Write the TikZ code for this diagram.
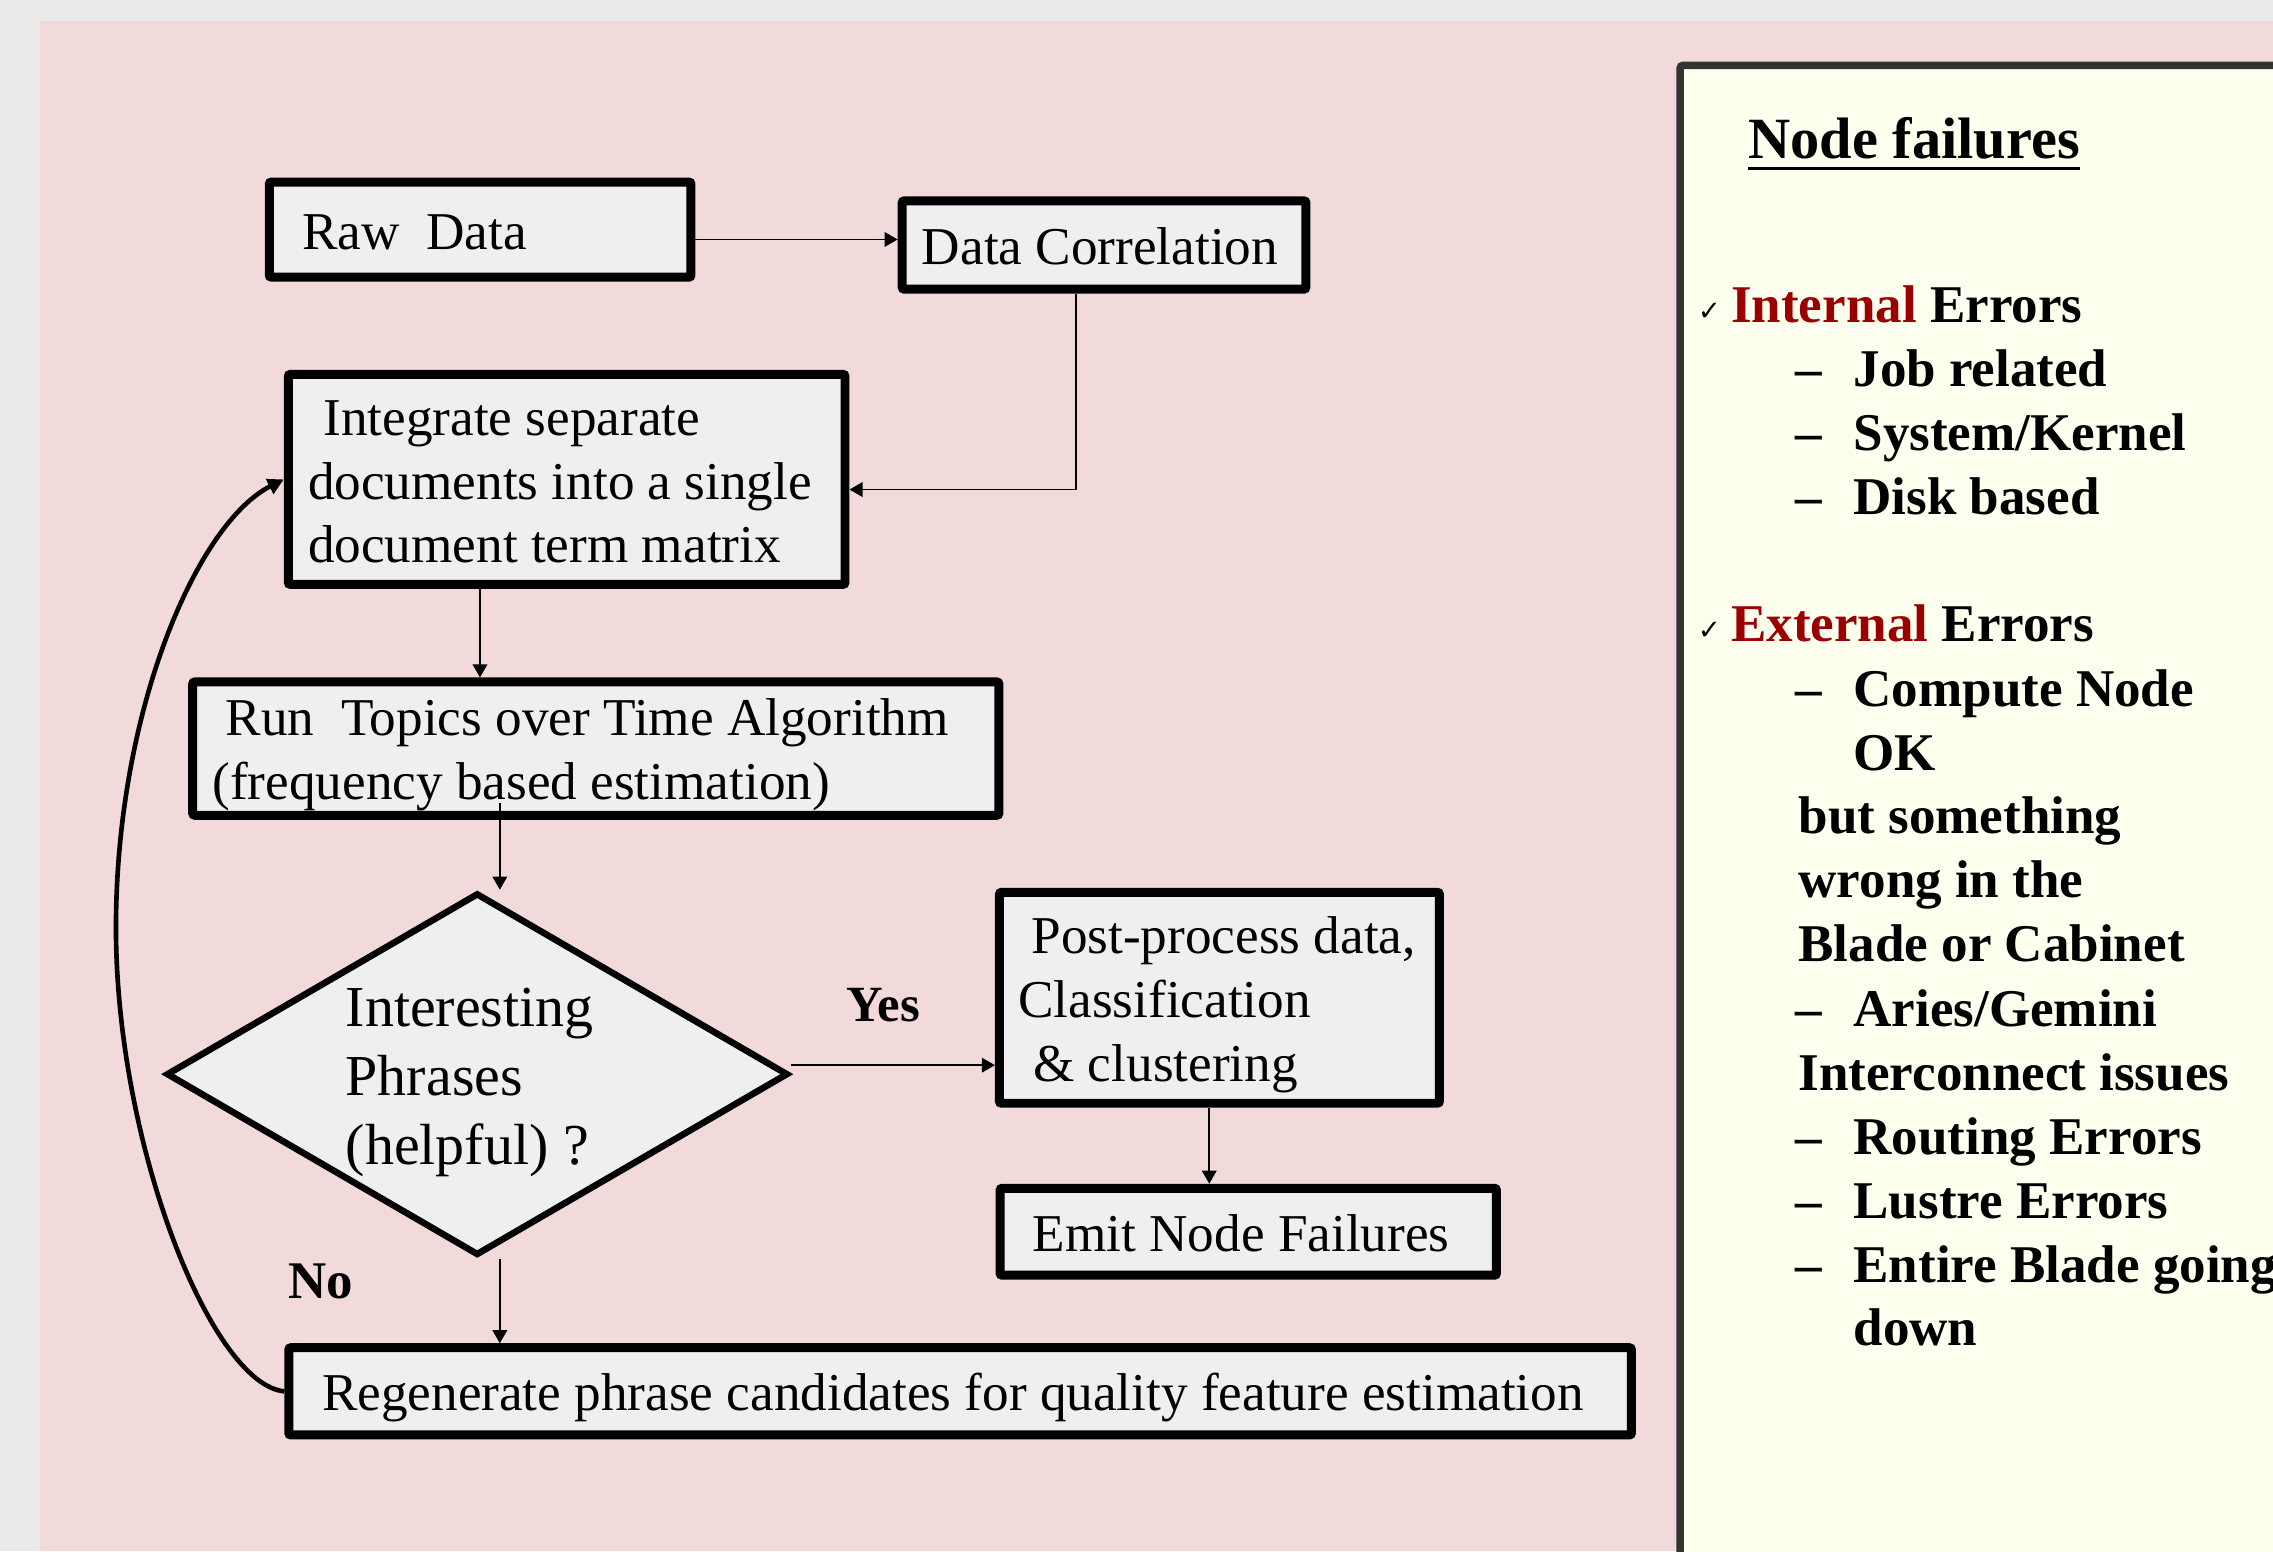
\documentclass[tikz,border=0pt]{standalone}
\usepackage{fontspec}
\setmainfont{Liberation Serif}
\newfontfamily\symfont{DejaVu Sans}
\usetikzlibrary{arrows.meta,shapes.geometric,calc}
\definecolor{graybg}{RGB}{234,234,234}
\definecolor{pinkbg}{RGB}{242,218,219}
\definecolor{boxfill}{RGB}{239,239,239}
\definecolor{cream}{RGB}{255,255,240}
\definecolor{panelborder}{RGB}{51,51,51}
\definecolor{darkred}{RGB}{155,0,0}
\tikzset{
  box/.style={rectangle, draw=black, fill=boxfill, line width=6.2pt, rounded corners=1.5pt, inner sep=0pt},
  txt/.style={anchor=base west, inner sep=0pt, font=\fontsize{36.7}{44}\selectfont},
  dtxt/.style={anchor=base west, inner sep=0pt, font=\fontsize{40}{48}\selectfont},
  lbl/.style={anchor=base west, inner sep=0pt, font=\fontsize{35}{42}\selectfont\bfseries},
  ptxt/.style={anchor=base west, inner sep=0pt, font=\fontsize{36.6}{44}\selectfont\bfseries},
  chk/.style={anchor=base west, inner sep=0pt, font=\fontsize{19}{21}\selectfont\symfont},
  arr/.style={-{Triangle[length=9pt,width=10pt]}, line width=1.3pt},
  looparr/.style={-{Triangle[length=11pt,width=11pt]}, line width=3.2pt},
}
\begin{document}
\begin{tikzpicture}[x=1pt,y=-1pt]
\clip (0,0) rectangle (1568,1070);
\fill[graybg] (0,0) rectangle (1568,1070);
\fill[pinkbg] (27.7,14.8) rectangle (1568,1070);

% right panel
\draw[panelborder, line width=5.2pt, fill=cream, rounded corners=2pt] (1159,45.1) rectangle (1640,1130);

% boxes
\node[box, minimum width=290.9pt, minimum height=65.6pt] (raw) at (331.2,158.4) {};
\node[box, minimum width=278.5pt, minimum height=61pt] (dc) at (761.6,169) {};
\node[box, minimum width=384pt, minimum height=144.9pt] (int) at (390.9,330.7) {};
\node[box, minimum width=556.1pt, minimum height=92pt] (rt) at (411,516.4) {};
\node[diamond, draw=black, fill=boxfill, line width=4.5pt, inner sep=0pt, minimum width=429pt, minimum height=250pt] (dia) at (329.2,741) {};
\node[box, minimum width=303.5pt, minimum height=145.5pt] (pp) at (841.2,688.3) {};
\node[box, minimum width=342.4pt, minimum height=60pt] (emit) at (861.1,849.7) {};
\node[box, minimum width=926.2pt, minimum height=60.2pt] (regen) at (662.3,959.8) {};

% box texts
\node[txt] (traw) at (208.3,172.1) {Raw\ \ Data};
\node[txt] (tdc) at (635.8,182.7) {Data Correlation};
\node[txt] (tint1) at (222.9,300.1) {Integrate separate};
\node[txt] (tint2) at (212.3,344.4) {documents into a single};
\node[txt] (tint3) at (212.3,387.9) {document term matrix};
\node[txt] (trt1) at (155.6,507.6) {Run\ \ Topics over Time Algorithm};
\node[txt] (trt2) at (146.4,551.5) {(frequency based estimation)};
\node[dtxt] (tdia1) at (238.3,708) {Interesting};
\node[dtxt] (tdia2) at (238.3,755.7) {Phrases};
\node[dtxt] (tdia3) at (238.3,803.5) {(helpful) ?};
\node[txt] (tpp1) at (711.4,657.8) {Post-process data,};
\node[txt] (tpp2) at (702.3,701.8) {Classification};
\node[txt] (tpp3) at (712.6,745.9) {\& clustering};
\node[txt] (temit) at (712.2,863.5) {Emit Node Failures};
\node[txt] (tregen) at (222,972.9) {Regenerate phrase candidates for quality feature estimation};
\node[lbl] (yes) at (583.9,705) {Yes};
\node[lbl, font=\fontsize{36.5}{42}\selectfont\bfseries] (no) at (199,895.9) {No};

% connectors
\coordinate (c1) at (0,165.2);
\draw[arr] (raw.east |- c1) -- (dc.west |- c1);
\coordinate (c2x) at (742.4,0);
\coordinate (c2y) at (0,337.7);
\draw[arr] (dc.south -| c2x) |- (int.east |- c2y);
\coordinate (c3x) at (331.1,0);
\draw[arr] (int.south -| c3x) -- (rt.north -| c3x);
\coordinate (c4x) at (344.8,0);
\draw[arr] ($(rt.south -| c4x)+(0,-11.4)$) -- (dia.north -| c4x);
\draw[arr] (dia.south -| c4x) -- (regen.north -| c4x);
\coordinate (c6y) at (0,734.8);
\draw[arr] (dia.east |- c6y) -- (pp.west |- c6y);
\coordinate (c7x) at (834.2,0);
\draw[arr] (pp.south -| c7x) -- (emit.north -| c7x);
\coordinate (loopL) at (80,640);
\draw[looparr] (regen.west) .. controls (146,955) and (80,790) .. (loopL) .. controls (80,490) and (136,361) .. (int.west);

% right panel text
\node[anchor=base west, inner sep=0pt, font=\fontsize{40.3}{48}\selectfont\bfseries] (nf) at (1205.8,109.3) {Node failures};
\draw[line width=2.4pt] ([yshift=-7pt]nf.base west) -- ([yshift=-7pt]nf.base east);

\node[chk] (ck1) at (1171,221) {✓};
\node[ptxt] (ie) at (1194,222.5) {\textcolor{darkred}{Internal} Errors};
\node[ptxt] (d1) at (1238.5,266.8) {–};
\node[ptxt] (i1) at (1278.4,266.8) {Job related};
\node[ptxt] (d2) at (1238.5,310.8) {–};
\node[ptxt] (i2) at (1278.4,310.8) {System/Kernel};
\node[ptxt] (d3) at (1238.5,354.8) {–};
\node[ptxt] (i3) at (1278.4,354.8) {Disk based};

\node[chk] (ck2) at (1171,441.4) {✓};
\node[ptxt] (ee) at (1194,442.5) {\textcolor{darkred}{External} Errors};
\node[ptxt] (d4) at (1238.5,487.5) {–};
\node[ptxt] (e1) at (1278.4,487.5) {Compute Node};
\node[ptxt] (e1b) at (1278.4,531.5) {OK};
\node[ptxt] (e1c) at (1240.5,575) {but something};
\node[ptxt] (e1d) at (1240.5,619.3) {wrong in the};
\node[ptxt] (e1e) at (1240.5,663.5) {Blade or Cabinet};
\node[ptxt] (d5) at (1238.5,707.8) {–};
\node[ptxt] (e2) at (1278.4,707.8) {Aries/Gemini};
\node[ptxt] (e2b) at (1240.5,752) {Interconnect issues};
\node[ptxt] (d6) at (1238.5,796.3) {–};
\node[ptxt] (e3) at (1278.4,796.3) {Routing Errors};
\node[ptxt] (d7) at (1238.5,840.4) {–};
\node[ptxt] (e4) at (1278.4,840.4) {Lustre Errors};
\node[ptxt] (d8) at (1238.5,884.6) {–};
\node[ptxt] (e5) at (1278.4,884.6) {Entire Blade going};
\node[ptxt] (e5b) at (1278.4,928.4) {down};
\end{tikzpicture}
\end{document}
